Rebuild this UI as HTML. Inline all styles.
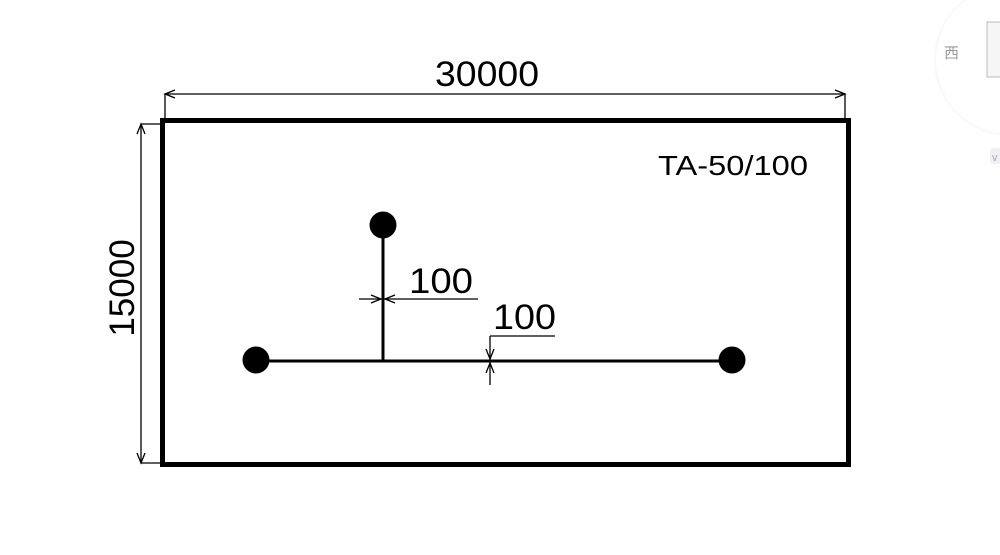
<!DOCTYPE html>
<html><head><style>body{margin:0;background:#fff}svg{display:block}</style></head><body>
<svg width="1000" height="555" viewBox="0 0 1000 555" xmlns="http://www.w3.org/2000/svg" font-family="Liberation Sans, sans-serif">
<rect x="0" y="0" width="1000" height="555" fill="#fff"/>
<circle cx="1010" cy="60" r="75" fill="none" stroke="#f8f8f8" stroke-width="2"/>
<text x="944" y="58" font-family="Liberation Sans, Noto Sans CJK SC, sans-serif" font-size="15" fill="#999">西</text>
<rect x="987" y="22" width="20" height="55" fill="#f6f6f6" stroke="#bbb"/>
<rect x="990" y="148" width="14" height="16" rx="3" fill="#f0f0f4"/>
<text x="992" y="161" font-size="11" fill="#aaa">v</text>
<rect x="162.5" y="120.5" width="686" height="344" fill="none" stroke="#000" stroke-width="5"/>
<g stroke="#000" stroke-width="1.3" fill="none">
<line x1="165" y1="94" x2="845" y2="94"/>
<line x1="165" y1="94" x2="165" y2="118"/>
<line x1="845" y1="94" x2="845" y2="118"/>
<path d="M175 90 L165 94 L175 98 M835 90 L845 94 L835 98"/>
<line x1="141" y1="124" x2="141" y2="463"/>
<line x1="141" y1="124" x2="160" y2="124"/>
<line x1="141" y1="463" x2="160" y2="463"/>
<path d="M137 134 L141 124 L145 134 M137 453 L141 463 L145 453"/>
<line x1="359" y1="299" x2="478" y2="299"/>
<path d="M371 295 L381 299 L371 303 M395 295 L385 299 L395 303"/>
<line x1="490" y1="336" x2="490" y2="385"/>
<line x1="490" y1="336" x2="555" y2="336"/>
<path d="M486 349 L490 359 L494 349 M486 373 L490 363 L494 373"/>
</g>
<g stroke="#000" stroke-width="3">
<line x1="256" y1="361" x2="732" y2="361"/>
<line x1="383" y1="225" x2="383" y2="361"/>
</g>
<circle cx="383" cy="225" r="13.5"/>
<circle cx="256" cy="360" r="13.5"/>
<circle cx="732" cy="360" r="13.5"/>
<text x="435" y="86" font-size="35" textLength="104" lengthAdjust="spacingAndGlyphs">30000</text>
<text transform="translate(134,288) rotate(-90)" font-size="35" text-anchor="middle">15000</text>
<text x="658" y="175" font-size="28" textLength="150" lengthAdjust="spacingAndGlyphs">TA-50/100</text>
<text x="409" y="293" font-size="35" textLength="64" lengthAdjust="spacingAndGlyphs">100</text>
<text x="493" y="329" font-size="35" textLength="63" lengthAdjust="spacingAndGlyphs">100</text>
</svg>
</body></html>
